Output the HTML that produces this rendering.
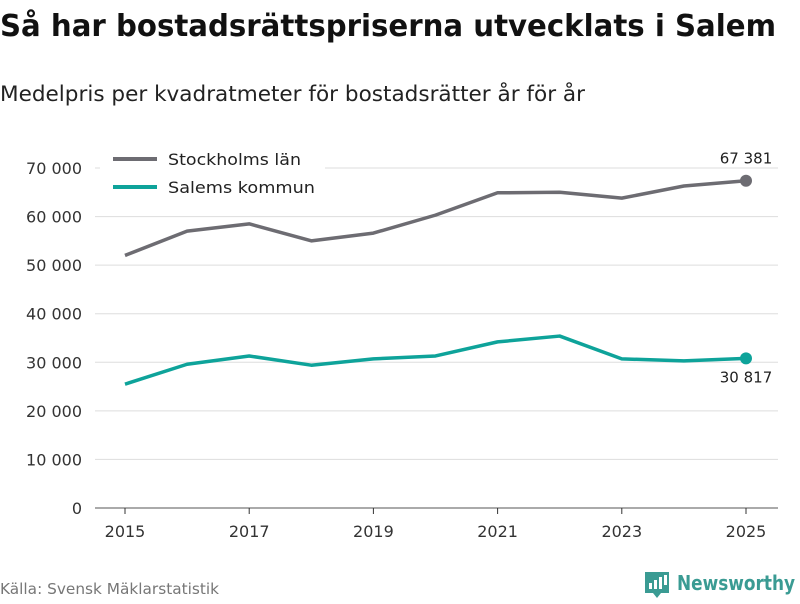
<!DOCTYPE html>
<html><head><meta charset="utf-8"><style>
body{margin:0;width:800px;height:600px;background:#fff;font-family:"DejaVu Sans","Liberation Sans",sans-serif;overflow:hidden}
</style></head><body>
<svg width="800" height="600" id="svg">
<text x="0" y="36" font-size="30" font-weight="bold" fill="#111" textLength="776" lengthAdjust="spacingAndGlyphs">Så har bostadsrättspriserna utvecklats i Salem</text>
<text x="0" y="101" font-size="21" fill="#222" textLength="585" lengthAdjust="spacingAndGlyphs">Medelpris per kvadratmeter för bostadsrätter år för år</text>
<g id="grid"></g><g id="xt"></g><g id="lines"></g>
<g>
<rect x="100" y="145" width="225" height="60" fill="#fff"/>
<line x1="113" y1="159" x2="157" y2="159" stroke="#6d6c72" stroke-width="4"/>
<text x="168" y="165" font-size="16" fill="#222" textLength="133" lengthAdjust="spacingAndGlyphs">Stockholms län</text>
<line x1="113" y1="187" x2="157" y2="187" stroke="#0ea39a" stroke-width="4"/>
<text x="168" y="193" font-size="16" fill="#222" textLength="147" lengthAdjust="spacingAndGlyphs">Salems kommun</text>
</g>
<text x="0" y="594" font-size="15" fill="#777" textLength="219" lengthAdjust="spacingAndGlyphs">Källa: Svensk Mäklarstatistik</text>
<g>
<path d="M645 572h24v21h-8l-4 5-4-5h-8z" fill="#3a9b93"/>
<rect x="649" y="583" width="3" height="6" fill="#fff"/><rect x="654" y="580" width="3" height="9" fill="#fff"/><rect x="659" y="577" width="3" height="12" fill="#fff"/><rect x="664" y="575" width="3" height="10" fill="#fff"/>
<text x="677" y="590" font-size="20" font-weight="bold" fill="#3a9b93" textLength="118" lengthAdjust="spacingAndGlyphs">Newsworthy</text>
</g>
</svg>
<script>
const years=[2015,2016,2017,2018,2019,2020,2021,2022,2023,2024,2025];
const stockholm=[52000,57000,58500,55000,56600,60300,64900,65000,63800,66300,67381];
const salem=[25500,29600,31300,29400,30700,31300,34200,35400,30700,30300,30817];
const yTicks=[0,10000,20000,30000,40000,50000,60000,70000];
const xTicks=[2015,2017,2019,2021,2023,2025];
const NS='http://www.w3.org/2000/svg';
const X=v=>125+(v-2015)*62.1, Y=v=>508-v*0.004857;
const fmt=v=>v.toLocaleString('en-US').replace(/,/g,' ');
function mk(t,a,p){const e=document.createElementNS(NS,t);for(const k in a)e.setAttribute(k,a[k]);p.appendChild(e);return e;}
const g=document.getElementById('grid');
yTicks.forEach(v=>{
 const l=mk('line',{x1:95,x2:778,y1:Y(v),y2:Y(v),stroke:v?'#ddd':'#555','stroke-width':1},g);
 
 
 const t=mk('text',{x:82,y:Y(v)+6,'text-anchor':'end','font-size':16,fill:'#333'},g);t.textContent=fmt(v);
 
 
});
const xt=document.getElementById('xt');
xTicks.forEach(v=>{
 const l=mk('line',{x1:X(v),x2:X(v),y1:508,y2:514,stroke:'#333'},xt);
 
 
 const t=mk('text',{x:X(v),y:537,'text-anchor':'middle','font-size':16,fill:'#333'},xt);t.textContent=v;
 
 
});
const L=document.getElementById('lines');
[[stockholm,'#6d6c72','stockholm',-15],[salem,'#0ea39a','salem',30]].forEach(([d,c,n,dy])=>{
 const p=mk('polyline',{points:d.map((v,i)=>X(years[i])+','+Y(v)).join(' '),fill:'none',stroke:c,'stroke-width':3.5,'stroke-linejoin':'round'},L);
 
 
 const last=d.length-1;
 const ci=mk('circle',{cx:X(years[last]),cy:Y(d[last]),r:6,fill:c},L);
 
 
 const t=mk('text',{x:X(years[last]),y:Y(d[last])+dy+(dy<0?-2:-6),'text-anchor':'middle','font-size':15,fill:'#222'},L);t.textContent=fmt(d[last]);
 
 
});
</script>
</body></html>
